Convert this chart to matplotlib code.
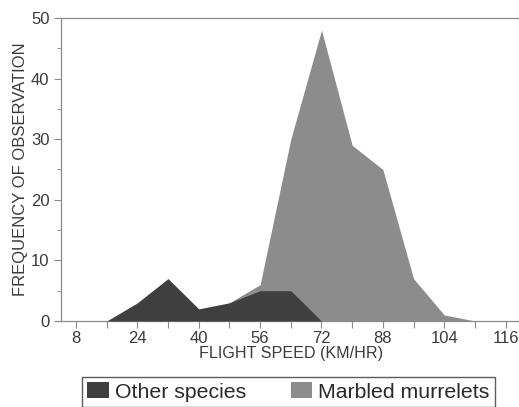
import matplotlib.pyplot as plt
import numpy as np

plt.rcParams['font.family'] = ['Liberation Sans', 'DejaVu Sans']

# flight speed classes (km/hr), one per category on the x axis
tick_labels = ['8', '', '24', '', '40', '', '56', '', '72', '', '88', '', '104', '', '116']
other_species = [0, 0, 3, 7, 2, 3, 5, 5, 0, 0, 0, 0, 0, 0, 0]
marbled_murrelets = [0, 0, 0, 0, 1, 3, 6, 30, 48, 29, 25, 7, 1, 0, 0]

text_col = '#3a3a3a'
axis_col = '#8a8a8a'
murrelet_col = '#8c8c8c'
other_col = '#3f3f3f'

fig = plt.figure(figsize=(5.19, 4.07), dpi=100)
ax = fig.add_axes([0.1168, 0.2113, 0.887, 0.7445])

x = np.arange(len(tick_labels))
# murrelets drawn behind, other species in front (overlapping areas)
ax.fill_between(x, 0, marbled_murrelets, color=murrelet_col, linewidth=0,
                label='Marbled murrelets', zorder=2)
ax.fill_between(x, 0, other_species, color=other_col, linewidth=0,
                label='Other species', zorder=3)

ax.set_xlim(-0.5, 14.5)
ax.set_ylim(0, 50)
ax.set_xticks(x)
ax.set_xticklabels(tick_labels)
ax.set_yticks(range(0, 51, 10))
ax.set_yticks(range(5, 50, 10), minor=True)

for side in ['top', 'left', 'bottom']:
    ax.spines[side].set_color(axis_col)
    ax.spines[side].set_linewidth(0.9)
ax.spines['right'].set_visible(False)

ax.tick_params(axis='both', which='both', color=axis_col, direction='out',
               labelcolor=text_col, labelsize=12)
ax.tick_params(axis='x', length=5, pad=2)
ax.tick_params(axis='y', which='major', length=5, pad=3)
ax.tick_params(axis='y', which='minor', length=3)

ax.set_xlabel('FLIGHT SPEED (KM/HR)', color=text_col, fontsize=11.6, labelpad=0)
ax.set_ylabel('FREQUENCY OF OBSERVATION', color=text_col, fontsize=12, labelpad=2)

h, l = ax.get_legend_handles_labels()
leg = fig.legend(h[::-1], l[::-1], loc='upper left',
                 bbox_to_anchor=(82 / 519, 1 - 377 / 407), ncol=2,
                 fontsize=15.3, frameon=True, fancybox=False,
                 handlelength=1.0, handleheight=0.75, handletextpad=0.3,
                 columnspacing=2.1, borderpad=0.25, borderaxespad=0)
leg.get_frame().set_edgecolor('#333333')
leg.get_frame().set_linewidth(1.0)
for t in leg.get_texts():
    t.set_color('#2a2a2a')

fig.savefig('out.png', dpi=100)
